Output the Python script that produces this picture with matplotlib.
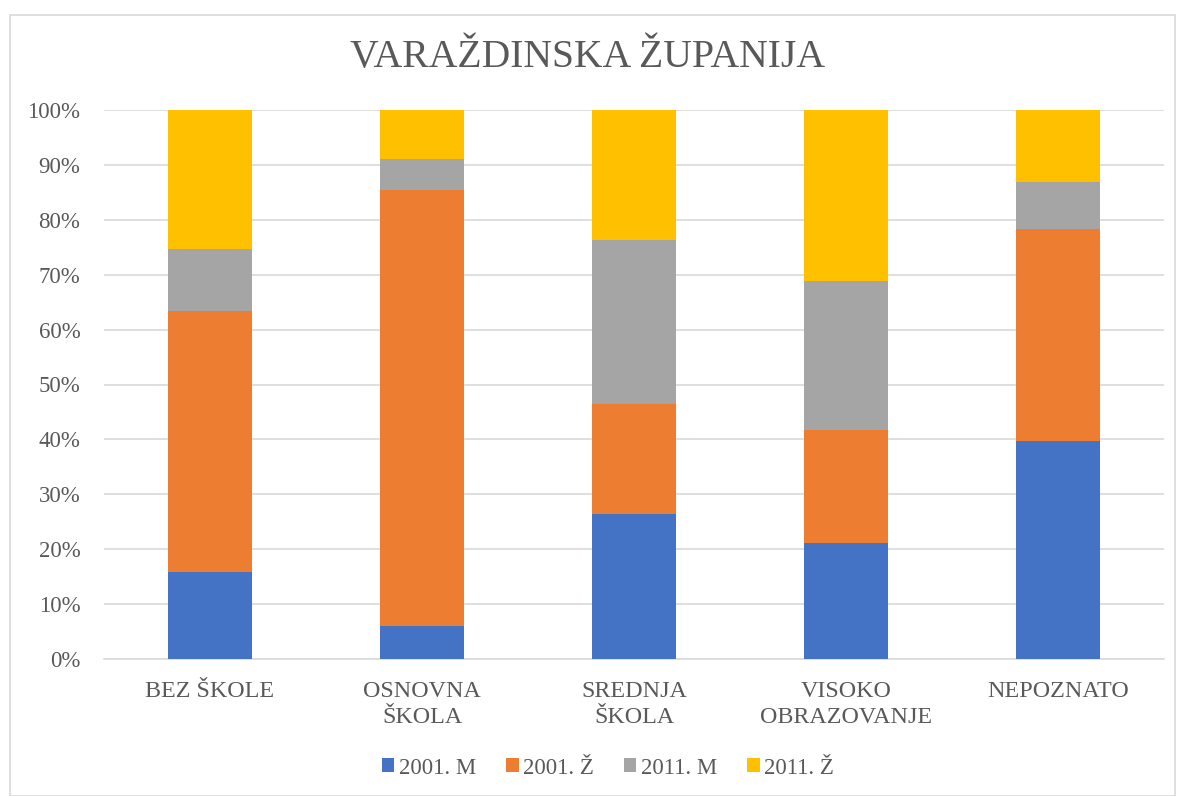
import matplotlib
matplotlib.use("Agg")
import matplotlib.pyplot as plt
from matplotlib.patches import Rectangle
import numpy as np

categories = ["BEZ ŠKOLE", "OSNOVNA\nŠKOLA", "SREDNJA\nŠKOLA", "VISOKO\nOBRAZOVANJE", "NEPOZNATO"]
series_names = ["2001. M", "2001. Ž", "2011. M", "2011. Ž"]
m2001 = [15.8, 6.0, 26.4, 21.1, 39.7]
z2001 = [47.6, 79.4, 20.0, 20.6, 38.6]
m2011 = [11.3, 5.7, 29.9, 27.2, 8.6]
z2011 = [25.3, 8.9, 23.7, 31.1, 13.1]
colors = ["#4472C4", "#ED7D31", "#A5A5A5", "#FFC000"]
title = "VARAŽDINSKA ŽUPANIJA"

plt.rcParams['font.family'] = ['Liberation Serif', 'DejaVu Serif']
text_color = "#595959"

W, H = 1179, 796
fig = plt.figure(figsize=(W / 100, H / 100), dpi=100)
fig.patches.append(Rectangle((10 / W, 0), (1175 - 10) / W, 1 - 15 / H, transform=fig.transFigure,
                             fill=False, edgecolor="#D9D9D9", linewidth=1.2))

ax = fig.add_axes([104 / W, 1 - 659 / H, (1164 - 104) / W, (659 - 110) / H])
data = [m2001, z2001, m2011, z2011]
x = np.arange(len(categories))
bottom = np.zeros(len(categories))
for vals, name, c in zip(data, series_names, colors):
    v = np.array(vals, dtype=float)
    ax.bar(x, v, 0.4, bottom=bottom, color=c, label=name, zorder=3)
    bottom += v

ax.set_xlim(-0.5, len(categories) - 0.5)
ax.set_ylim(0, 100)
ax.set_yticks(np.arange(0, 101, 10))
ax.set_yticklabels([f"{v}%" for v in range(0, 101, 10)], fontsize=16.5)
ax.set_xticks(x)
ax.set_xticklabels(categories, linespacing=1.3, fontsize=17.3)
ax.tick_params(axis='both', length=0, colors=text_color)
ax.tick_params(axis='y', pad=17)
ax.tick_params(axis='x', pad=16)
ax.grid(axis='y', color="#D9D9D9", linewidth=1.2, zorder=0)
for s in ["top", "right", "left"]:
    ax.spines[s].set_visible(False)
ax.spines["bottom"].set_color("#D9D9D9")
ax.spines["bottom"].set_linewidth(1.2)

fig.text(588 / W, 1 - 58 / H, title, ha='center', va='center', fontsize=28.5, color=text_color)

leg = fig.legend(loc='center', bbox_to_anchor=(608 / W, 1 - 768 / H), ncol=4, frameon=False,
                 fontsize=16.5, handlelength=0.55, handleheight=0.55, handletextpad=0.2,
                 columnspacing=1.3, labelcolor=text_color)

fig.savefig("out.png", dpi=100)
